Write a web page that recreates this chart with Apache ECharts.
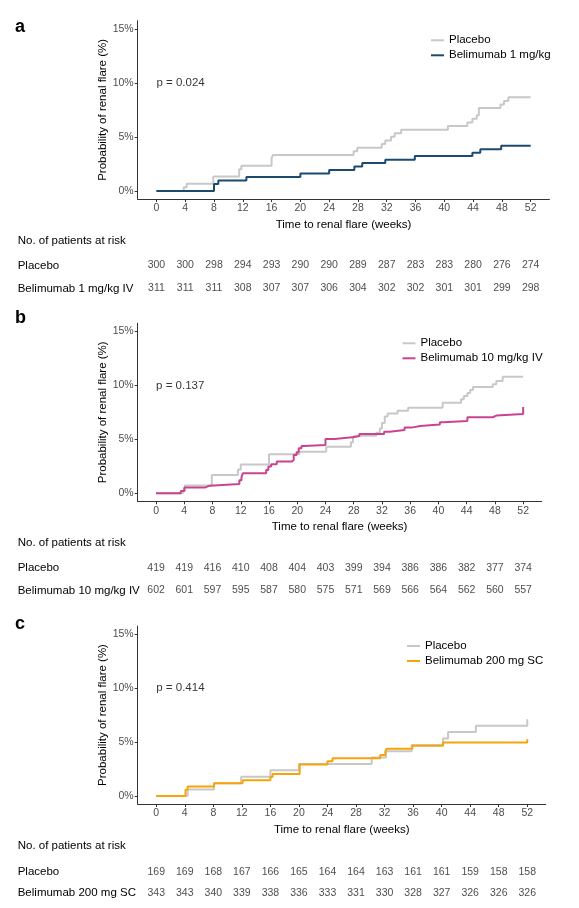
<!DOCTYPE html>
<html><head><meta charset="utf-8">
<script src="https://cdn.jsdelivr.net/npm/echarts@6/dist/echarts.min.js"></script>
<style>html,body{margin:0;padding:0;background:#fff}#c{width:579px;height:908px}</style>
</head><body><div id="c"></div><script>
// ---------- data ----------
const weekTicks = [0,4,8,12,16,20,24,28,32,36,40,44,48,52];
const pctTicks = [0,5,10,15];

const aPlacebo = [[0,0],[3.8,0.33],[4.2,0.67],[7.9,1.33],[11.5,2.0],[11.8,2.33],[16.0,3.0],[16.2,3.33],[27.4,3.67],[27.9,4.0],[31.3,4.33],[31.8,4.67],[32.6,5.0],[33.1,5.33],[34.0,5.67],[40.5,6.0],[43.2,6.33],[43.9,6.67],[44.5,7.0],[44.8,7.67],[47.8,8.0],[48.3,8.33],[48.9,8.67],[52,8.67]];
const aDrug = [[0,0],[8.0,0.64],[8.6,0.96],[12.5,1.29],[20.0,1.61],[24.0,1.93],[27.5,2.25],[28.6,2.57],[31.8,2.89],[35.9,3.22],[43.9,3.54],[45.0,3.86],[47.9,4.18],[52,4.18]];
const bPlacebo = [[0,0],[3.8,0.24],[4.1,0.72],[7.9,1.69],[11.6,2.2],[12.0,2.65],[16.0,3.61],[20.3,3.85],[24.1,4.31],[27.6,4.72],[27.9,5.09],[28.1,5.33],[31.2,5.6],[31.7,6.0],[32.0,6.5],[32.4,7.1],[32.8,7.4],[34.2,7.65],[35.7,7.93],[40.6,8.39],[43.2,8.7],[43.6,9.0],[44.1,9.3],[44.5,9.56],[44.9,9.84],[47.7,10.1],[48.2,10.4],[49.1,10.8],[52,10.8]];
const bDrug = [[0,0],[3.5,0.2],[4.0,0.52],[6.9,0.7],[7.6,0.86],[11.8,1.2],[12.1,1.5],[12.3,1.85],[15.6,2.16],[15.9,2.47],[16.3,2.69],[17.1,2.93],[19.2,3.08],[19.5,3.55],[19.9,3.8],[20.2,4.17],[20.6,4.38],[21.0,4.47],[24.0,5.03],[25.3,5.2],[28.1,5.3],[28.8,5.49],[32.3,5.7],[33.1,5.86],[35.2,6.08],[36.2,6.23],[37.4,6.38],[40.2,6.57],[40.7,6.7],[44.1,7.04],[47.7,7.2],[48.2,7.35],[52,7.35],[52,8.0]];
const cPlacebo = [[0,0],[4.4,0.59],[8.1,1.18],[11.9,1.78],[16.0,2.37],[20.0,2.96],[30.2,3.55],[32.2,4.14],[35.8,4.73],[40.2,5.33],[40.9,5.92],[44.8,6.51],[52,6.51],[52,7.1]];
const cDrug = [[0,0],[4.1,0.58],[4.4,0.87],[8.1,1.17],[12.1,1.46],[16.0,1.75],[16.3,2.04],[20.1,2.92],[24.0,3.21],[24.7,3.5],[31.4,3.79],[32.1,4.08],[32.3,4.37],[35.9,4.66],[40.2,4.96],[52,4.96],[52,5.25]];

const aRiskPlacebo = [300,300,298,294,293,290,290,289,287,283,283,280,276,274];
const aRiskDrug    = [311,311,311,308,307,307,306,304,302,302,301,301,299,298];
const bRiskPlacebo = [419,419,416,410,408,404,403,399,394,386,386,382,377,374];
const bRiskDrug    = [602,601,597,595,587,580,575,571,569,566,564,562,560,557];
const cRiskPlacebo = [169,169,168,167,166,165,164,164,163,161,161,159,158,158];
const cRiskDrug    = [343,343,340,339,338,336,333,331,330,328,327,326,326,326];

const panelLetters = ['a','b','c'];
const drugNames = ['Belimumab 1 mg/kg','Belimumab 10 mg/kg IV','Belimumab 200 mg SC'];
const riskRowNames = ['Belimumab 1 mg/kg IV','Belimumab 10 mg/kg IV','Belimumab 200 mg SC'];
const pValues = ['p = 0.024','p = 0.137','p = 0.414'];

// ---------- layout ----------
const FONT = '"Liberation Sans", Arial, Helvetica, sans-serif';
const GRAY = '#c8c8c8';
const drugColors = ['#1b4a6e','#c94391','#f5a40a'];
const panels = [
  {placebo:aPlacebo, drug:aDrug, riskP:aRiskPlacebo, riskD:aRiskDrug,
   top:20.7, height:178.3, right:29.6, legL:431, legT:33.3, letterY:27, noY:240.7, rowP:265.5, rowD:288.5},
  {placebo:bPlacebo, drug:bDrug, riskP:bRiskPlacebo, riskD:bRiskDrug,
   top:323.3, height:178, right:37.5, legL:402.5, legT:336.3, letterY:318, noY:542.7, rowP:568, rowD:590.5},
  {placebo:cPlacebo, drug:cDrug, riskP:cRiskPlacebo, riskD:cRiskDrug,
   top:626, height:178, right:33.2, legL:407, legT:639, letterY:624, noY:846, rowP:872, rowD:893}
];

const grid=[], xAxis=[], yAxis=[], series=[], legend=[], graphic=[];
panels.forEach((p,i)=>{
  const gMain = grid.length;
  grid.push({left:137.7, right:p.right, top:p.top, height:p.height});
  grid.push({left:137.7, right:p.right, top:p.rowP, height:p.rowD-p.rowP});
  xAxis.push({gridIndex:gMain, type:'value', min:-2.6, max:54.6,
    axisLine:{show:true, onZero:false, lineStyle:{color:'#333', width:1}},
    axisTick:{show:true, customValues:weekTicks, length:3, lineStyle:{color:'#333'}},
    axisLabel:{customValues:weekTicks, color:'#4d4d4d', fontSize:10.5, margin:4, fontFamily:FONT},
    splitLine:{show:false},
    name:'Time to renal flare (weeks)', nameLocation:'middle', nameGap:20, nameMoveOverlap:false,
    nameTextStyle:{color:'#000', fontSize:11.5, fontFamily:FONT}});
  xAxis.push({gridIndex:gMain+1, type:'value', min:-2.6, max:54.6, show:false});
  yAxis.push({gridIndex:gMain, type:'value', min:-0.75, max:15.75,
    axisLine:{show:true, onZero:false, lineStyle:{color:'#333', width:1}},
    axisTick:{show:true, customValues:pctTicks, length:3, lineStyle:{color:'#333'}},
    axisLabel:{customValues:pctTicks, formatter:'{value}%', color:'#4d4d4d', fontSize:10.5, margin:4, fontFamily:FONT},
    splitLine:{show:false},
    name:'Probability of renal flare (%)', nameLocation:'middle', nameGap:28.5, nameRotate:90, nameMoveOverlap:false,
    nameTextStyle:{color:'#000', fontSize:11.5, fontFamily:FONT}});
  yAxis.push({gridIndex:gMain+1, type:'value', min:0, max:1, show:false});

  series.push({type:'line', name:'Placebo', xAxisIndex:gMain, yAxisIndex:gMain, step:'end',
    data:p.placebo, showSymbol:false, symbol:'none', lineStyle:{color:GRAY, width:2}, itemStyle:{color:GRAY}, z:2});
  series.push({type:'line', name:drugNames[i], xAxisIndex:gMain, yAxisIndex:gMain, step:'end',
    data:p.drug, showSymbol:false, symbol:'none', lineStyle:{color:drugColors[i], width:2}, itemStyle:{color:drugColors[i]}, z:3});
  series.push({type:'scatter', xAxisIndex:gMain, yAxisIndex:gMain, data:[[0,10]], symbolSize:0, silent:true,
    label:{show:true, position:'right', distance:0, formatter:pValues[i], color:'#000', fontSize:11.5, fontFamily:FONT}});
  const riskLabel = {show:true, position:'inside', formatter:(q)=>String(q.value[2]), color:'#1a1a1a', fontSize:10.5, fontFamily:FONT};
  series.push({type:'scatter', xAxisIndex:gMain+1, yAxisIndex:gMain+1, symbolSize:0, silent:true,
    data:weekTicks.map((w,j)=>[w,1,p.riskP[j]]), label:riskLabel});
  series.push({type:'scatter', xAxisIndex:gMain+1, yAxisIndex:gMain+1, symbolSize:0, silent:true,
    data:weekTicks.map((w,j)=>[w,0,p.riskD[j]]), label:riskLabel});

  legend.push({orient:'vertical', left:p.legL, top:p.legT, padding:0, itemWidth:13, itemHeight:2, itemGap:1,
    icon:'rect', selectedMode:false, data:['Placebo', drugNames[i]],
    textStyle:{color:'#000', fontSize:11.5, fontFamily:FONT, lineHeight:14}});

  graphic.push({type:'text', x:15, y:p.letterY, silent:true,
    style:{text:panelLetters[i], fill:'#000', font:'bold 18px '+FONT, verticalAlign:'middle', textAlign:'left'}});
  graphic.push({type:'text', x:17.7, y:p.noY, silent:true,
    style:{text:'No. of patients at risk', fill:'#000', font:'11.5px '+FONT, verticalAlign:'middle'}});
  graphic.push({type:'text', x:17.7, y:p.rowP, silent:true,
    style:{text:'Placebo', fill:'#000', font:'11.5px '+FONT, verticalAlign:'middle'}});
  graphic.push({type:'text', x:17.7, y:p.rowD, silent:true,
    style:{text:riskRowNames[i], fill:'#000', font:'11.5px '+FONT, verticalAlign:'middle'}});
});

const chart = echarts.init(document.getElementById('c'), null, {renderer:'canvas'});
chart.setOption({animation:false, backgroundColor:'#fff', grid, xAxis, yAxis, series, legend, graphic});
</script></body></html>
